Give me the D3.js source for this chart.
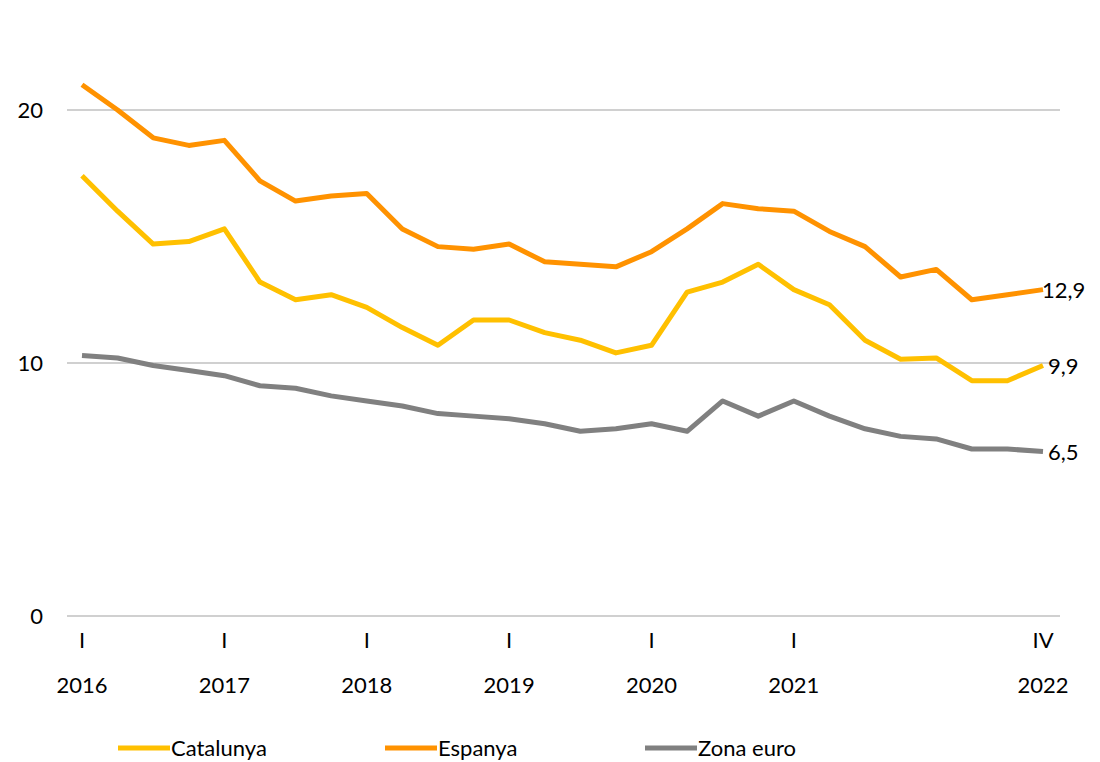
<!DOCTYPE html>
<html>
<head>
<meta charset="utf-8">
<script src="https://d3js.org/d3.v7.min.js"></script>
<style>
  body { margin: 0; background: #fff; }
  text { font-family: Lato, "Open Sans", sans-serif; fill: #000; }
</style>
</head>
<body>
<svg width="1100" height="762"></svg>
<script>
// quarters 2016 I .. 2022 IV
const quarters = d3.range(28);
const yearLabels = ["2016", "2017", "2018", "2019", "2020", "2021", "2022"];
const yTicks = [0, 10, 20];

const catalunya = [17.4, 16.0, 14.7, 14.8, 15.3, 13.2, 12.5, 12.7,
                   12.2, 11.4, 10.7, 11.7, 11.7, 11.2, 10.9, 10.4,
                   10.7, 12.8, 13.2, 13.9, 12.9, 12.3, 10.9, 10.15,
                   10.2, 9.3, 9.3, 9.9];
const espanya = [21.0, 20.0, 18.9, 18.6, 18.8, 17.2, 16.4, 16.6,
                 16.7, 15.3, 14.6, 14.5, 14.7, 14.0, 13.9, 13.8,
                 14.4, 15.3, 16.3, 16.1, 16.0, 15.2, 14.6, 13.4,
                 13.7, 12.5, 12.7, 12.9];
const zonaEuro = [10.3, 10.2, 9.9, 9.7, 9.5, 9.1, 9.0, 8.7,
                  8.5, 8.3, 8.0, 7.9, 7.8, 7.6, 7.3, 7.4,
                  7.6, 7.3, 8.5, 7.9, 8.5, 7.9, 7.4, 7.1,
                  7.0, 6.6, 6.6, 6.5];

const series = [
  {name: "Catalunya", values: catalunya, color: "#ffc000", label: "9,9"},
  {name: "Espanya", values: espanya, color: "#ff9200", label: "12,9"},
  {name: "Zona euro", values: zonaEuro, color: "#808080", label: "6,5"}
];

const svg = d3.select("svg");
const x = d3.scaleLinear().domain([0, 27]).range([82, 1043]);
const y = d3.scaleLinear().domain([0, 20]).range([616, 110]);

// grid lines
svg.append("g").selectAll("line")
  .data(yTicks).enter().append("line")
  .attr("x1", 67).attr("x2", 1060)
  .attr("y1", d => y(d)).attr("y2", d => y(d))
  .attr("stroke", "#d0d0d0").attr("stroke-width", 2);

svg.append("g").selectAll("text")
  .data(yTicks).enter().append("text")
  .attr("x", 43).attr("y", d => y(d) + 8)
  .attr("text-anchor", "end")
  .style("font-size", "22px")
  .text(d => d);

// x labels: first quarter of each year, last one IV 2022
const xTicks = [0, 4, 8, 12, 16, 20, 27];
const xg = svg.append("g").selectAll("g")
  .data(xTicks).enter().append("g")
  .attr("transform", d => `translate(${x(d)},0)`);
xg.append("text").attr("y", 648).attr("text-anchor", "middle")
  .style("font-size", "22px")
  .text(d => d === 27 ? "IV" : "I");
xg.append("text").attr("y", 693).attr("text-anchor", "middle")
  .style("font-size", "22px")
  .text((d, i) => yearLabels[i]);

const line = d3.line().x((d, i) => x(quarters[i])).y(d => y(d));

// draw Catalunya last-but-one order as in picture: grey, yellow, orange
[series[2], series[0], series[1]].forEach(s => {
  svg.append("path")
    .datum(s.values)
    .attr("fill", "none")
    .attr("stroke", s.color)
    .attr("stroke-width", 5)
    .attr("stroke-linejoin", "round")
    .attr("d", line);
});

// end labels
series.forEach(s => {
  const last = s.values[s.values.length - 1];
  svg.append("text")
    .attr("x", s.name === "Espanya" ? 1042 : 1048)
    .attr("y", y(last) + 8)
    .style("font-size", "22px")
    .text(s.label);
});

// legend
const legendX = [118, 385, 645];
series.forEach((s, i) => {
  const g = svg.append("g").attr("transform", `translate(${legendX[i]},748)`);
  g.append("line").attr("x1", 0).attr("x2", 52)
    .attr("stroke", s.color).attr("stroke-width", 5);
  g.append("text").attr("x", 53).attr("y", 8)
    .style("font-size", "22px")
    .text(s.name);
});
</script>
</body>
</html>
